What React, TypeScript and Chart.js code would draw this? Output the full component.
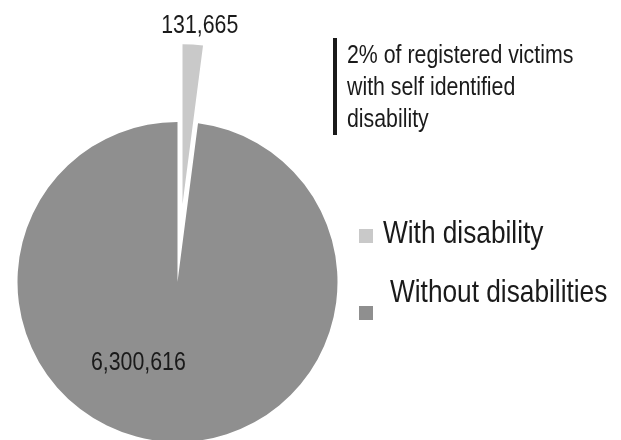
import React, { useEffect, useRef } from 'react';
import { Chart, registerables } from 'chart.js';

Chart.register(...registerables);

// ---- data ----
const categories = ['With disability', 'Without disabilities'];
const victims = [131665, 6300616];
const noteLines = ['2% of registered victims', 'with self identified', 'disability'];

// ---- styles ----
const sliceColors = ['#c9c9c9', '#8f8f8f'];
const FONT = "'Liberation Sans', Arial, sans-serif";
const NARROW = 0.82;
const TEXT_COLOR = '#1a1a1a';
const EXPLODE = 78;
const labelPlacement = [
  { radius: 1.0, dx: 7, dy: -11 },
  { radius: 0.5, dx: -34, dy: 8 },
];
const legendTop = [216, 275];
const legendSquareTop = [229, 306];
const legendTextLeft = [383, 390];

const fmt = new Intl.NumberFormat('en-US');

const explodePlugin = {
  id: 'explodeFirst',
  afterDatasetsUpdate(chart: any) {
    const arc = chart.getDatasetMeta(0).data[0];
    if (!arc) return;
    const mid = (arc.startAngle + arc.endAngle) / 2;
    arc.x += Math.cos(mid) * EXPLODE;
    arc.y += Math.sin(mid) * EXPLODE;
  },
};

const labelPlugin = {
  id: 'sliceLabels',
  afterDatasetsDraw(chart: any) {
    const ctx = chart.ctx;
    const meta = chart.getDatasetMeta(0);
    meta.data.forEach((arc: any, i: number) => {
      const mid = (arc.startAngle + arc.endAngle) / 2;
      const p = labelPlacement[i];
      const r = arc.outerRadius * p.radius;
      const x = arc.x + Math.cos(mid) * r + p.dx;
      const y = arc.y + Math.sin(mid) * r + p.dy;
      ctx.save();
      ctx.translate(x, y);
      ctx.scale(NARROW, 1);
      ctx.font = `26px ${FONT}`;
      ctx.fillStyle = TEXT_COLOR;
      ctx.textAlign = 'center';
      ctx.textBaseline = 'alphabetic';
      ctx.fillText(fmt.format(victims[i]), 0, 0);
      ctx.restore();
    });
  },
};

const narrowText = {
  transform: `scaleX(${NARROW})`,
  transformOrigin: 'left top',
  fontFamily: FONT,
  color: TEXT_COLOR,
  whiteSpace: 'nowrap' as const,
};

export default function App() {
  const ref = useRef<HTMLCanvasElement>(null);

  useEffect(() => {
    const chart = new Chart(ref.current as HTMLCanvasElement, {
      type: 'pie',
      data: {
        labels: categories,
        datasets: [
          {
            data: victims,
            backgroundColor: sliceColors,
            borderWidth: 0,
          },
        ],
      },
      options: {
        responsive: false,
        animation: false,
        radius: 160,
        layout: { padding: { left: 0, right: 266, top: 124, bottom: 0 } },
        plugins: {
          legend: { display: false },
          tooltip: { enabled: false },
        },
      } as any,
      plugins: [explodePlugin, labelPlugin],
    });
    return () => chart.destroy();
  }, []);

  return (
    <div
      style={{
        position: 'fixed',
        left: 0,
        top: 0,
        width: 621,
        height: 440,
        background: '#ffffff',
        overflow: 'hidden',
      }}
    >
      <canvas ref={ref} width={621} height={440} style={{ position: 'absolute', left: 0, top: 0 }} />
      <div
        style={{
          position: 'absolute',
          left: 333,
          top: 38,
          width: 4,
          height: 97,
          background: TEXT_COLOR,
        }}
      />
      <div
        style={{
          ...narrowText,
          position: 'absolute',
          left: 347,
          top: 38,
          fontSize: 26,
          lineHeight: '32px',
        }}
      >
        {noteLines.map((l, i) => (
          <div key={i}>{l}</div>
        ))}
      </div>
      {categories.map((c, i) => (
        <React.Fragment key={c}>
          <div
            style={{
              position: 'absolute',
              left: 359,
              top: legendSquareTop[i],
              width: 14,
              height: 14,
              background: sliceColors[i],
            }}
          />
          <div
            style={{
              ...narrowText,
              position: 'absolute',
              left: legendTextLeft[i],
              top: legendTop[i],
              fontSize: 32,
              lineHeight: '32px',
            }}
          >
            {c}
          </div>
        </React.Fragment>
      ))}
    </div>
  );
}
